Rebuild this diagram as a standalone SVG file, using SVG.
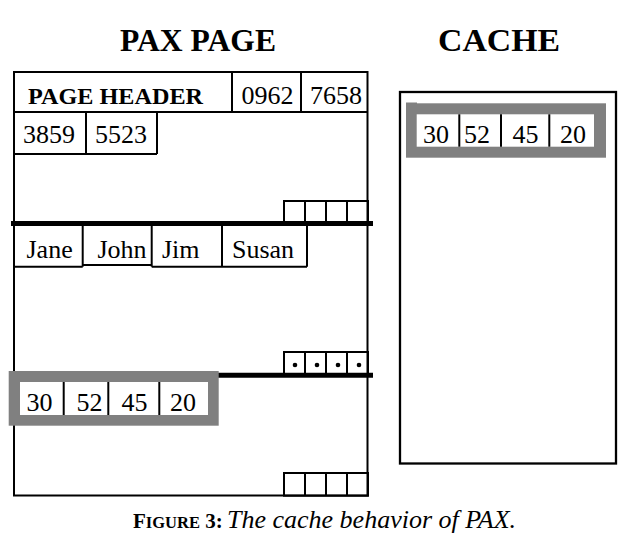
<svg xmlns="http://www.w3.org/2000/svg" width="632" height="552" viewBox="0 0 632 552">
<style>
.ln{stroke:#000;stroke-width:2;fill:none}
.thick{stroke:#000;stroke-width:5;fill:none}
.t{font-family:"Liberation Serif","Times New Roman",serif;font-size:26px;fill:#000}
.b{font-family:"Liberation Serif","Times New Roman",serif;font-weight:bold;fill:#000}
.gray{fill:#808080}
.white{fill:#fff}
</style>
<rect width="632" height="552" fill="#fff"/>
<g id="titles">
<text class="b" x="120" y="51" font-size="31" textLength="156" lengthAdjust="spacingAndGlyphs">PAX PAGE</text>
<text class="b" x="438" y="51" font-size="31" textLength="122" lengthAdjust="spacingAndGlyphs">CACHE</text>
</g>
<g id="pax-page">
<rect class="ln" x="14" y="72" width="353.5" height="423.5"/>
<g id="header">
<line class="ln" x1="14" y1="112" x2="367.5" y2="112"/>
<line class="ln" x1="232" y1="72" x2="232" y2="112"/>
<line class="ln" x1="301" y1="72" x2="301" y2="112"/>
<text class="b" x="28" y="104" font-size="23" textLength="175" lengthAdjust="spacingAndGlyphs">PAGE HEADER</text>
<text class="t" x="241.5" y="104">0962</text>
<text class="t" x="310" y="104">7658</text>
<line class="ln" x1="86" y1="112" x2="86" y2="154"/>
<line class="ln" x1="157" y1="112" x2="157" y2="154"/>
<line class="ln" x1="14" y1="154" x2="157" y2="154"/>
<text class="t" x="23" y="143">3859</text>
<text class="t" x="95" y="143">5523</text>
</g>
<g id="minipage-1">
<rect class="ln" x="284" y="201" width="84" height="22"/>
<line class="ln" x1="305" y1="201" x2="305" y2="223"/>
<line class="ln" x1="326" y1="201" x2="326" y2="223"/>
<line class="ln" x1="347" y1="201" x2="347" y2="223"/>
<line class="thick" x1="11" y1="223.5" x2="373" y2="223.5"/>
<line class="ln" x1="82.7" y1="223" x2="82.7" y2="266.7"/>
<line class="ln" x1="151.7" y1="223" x2="151.7" y2="266.7"/>
<line class="ln" x1="222" y1="223" x2="222" y2="266.7"/>
<line class="ln" x1="307" y1="223" x2="307" y2="266.7"/>
<line class="ln" x1="14" y1="266.7" x2="82.7" y2="266.7"/>
<line class="ln" x1="82.7" y1="265" x2="151.7" y2="265"/>
<line class="ln" x1="151.7" y1="266.7" x2="307" y2="266.7"/>
<text class="t" x="26.5" y="258">Jane</text>
<text class="t" x="97.5" y="258">John</text>
<text class="t" x="162" y="258">Jim</text>
<text class="t" x="232" y="258">Susan</text>
</g>
<g id="minipage-2">
<rect class="ln" x="284" y="352" width="84" height="23"/>
<line class="ln" x1="305" y1="352" x2="305" y2="375"/>
<line class="ln" x1="326" y1="352" x2="326" y2="375"/>
<line class="ln" x1="347" y1="352" x2="347" y2="375"/>
<circle cx="295" cy="365" r="2.3"/>
<circle cx="317" cy="365" r="2.3"/>
<circle cx="338" cy="365" r="2.3"/>
<circle cx="359" cy="365" r="2.3"/>
<line class="thick" x1="218" y1="375.3" x2="373" y2="375.3"/>
</g>
<g id="page-block">
<rect class="gray" x="8.7" y="371" width="210" height="54.7"/>
<rect class="white" x="20" y="382" width="188" height="33"/>
<line class="ln" x1="63.7" y1="382" x2="63.7" y2="415"/>
<line class="ln" x1="108.3" y1="382" x2="108.3" y2="415"/>
<line class="ln" x1="159.3" y1="382" x2="159.3" y2="415"/>
<text class="t" x="26.5" y="411">30</text>
<text class="t" x="76.5" y="411">52</text>
<text class="t" x="121.5" y="411">45</text>
<text class="t" x="170" y="411">20</text>
</g>
<g id="minipage-3">
<rect class="ln" x="284" y="473" width="84" height="22.7"/>
<line class="ln" x1="305" y1="473" x2="305" y2="495.7"/>
<line class="ln" x1="326" y1="473" x2="326" y2="495.7"/>
<line class="ln" x1="347" y1="473" x2="347" y2="495.7"/>
</g>
</g>
<g id="cache">
<rect x="400" y="92" width="216" height="371.5" fill="none" stroke="#000" stroke-width="2.3"/>
<rect class="gray" x="406" y="103.3" width="200" height="54.4"/>
<rect class="gray" x="406" y="102.5" width="11" height="2"/>
<rect class="white" x="416.7" y="114.3" width="177.3" height="32.4"/>
<line class="ln" x1="459.3" y1="114.3" x2="459.3" y2="146.7"/>
<line class="ln" x1="501" y1="114.3" x2="501" y2="146.7"/>
<line class="ln" x1="549.3" y1="114.3" x2="549.3" y2="146.7"/>
<text class="t" x="423" y="143">30</text>
<text class="t" x="464" y="143">52</text>
<text class="t" x="512.5" y="143">45</text>
<text class="t" x="560" y="143">20</text>
</g>
<g id="caption">
<text x="133" y="528" font-family="'Liberation Serif','Times New Roman',serif" font-size="21" font-weight="bold" fill="#000">F<tspan font-size="16.5">IGURE</tspan> 3:</text>
<text x="227" y="528" font-family="'Liberation Serif','Times New Roman',serif" font-size="26" font-style="italic" fill="#000">The cache behavior of PAX.</text>
</g>
</svg>
